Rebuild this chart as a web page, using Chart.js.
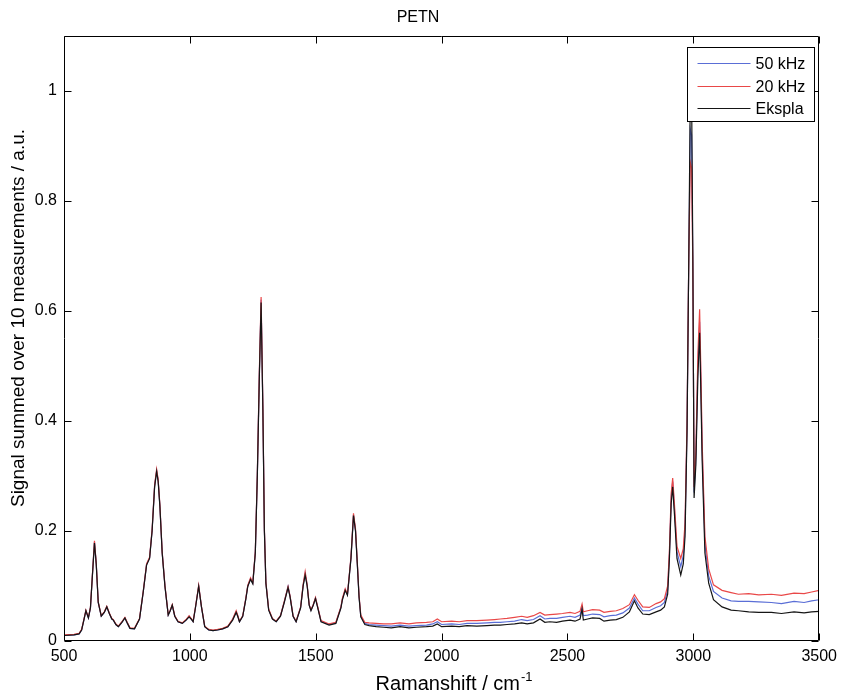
<!DOCTYPE html>
<html><head><meta charset="utf-8">
<script src="https://cdn.jsdelivr.net/npm/chart.js@4/dist/chart.umd.min.js"></script>
<style>html,body{margin:0;padding:0;background:#fff}canvas{display:block}</style>
</head><body>
<canvas id="c" width="843" height="694"></canvas>
<script>
const chartTitle = 'PETN';
const xAxisTitle = 'Ramanshift / cm';
const xAxisSup = '-1';
const yAxisTitle = 'Signal summed over 10 measurements / a.u.';
const seriesNames = ['50 kHz', '20 kHz', 'Ekspla'];
const xTicks = [500, 1000, 1500, 2000, 2500, 3000, 3500];
const yTicks = [0, 0.2, 0.4, 0.6, 0.8, 1];

const ramanShift = [
 500,540,560,570,580,587,597,605,613,621,
 628,636,648,660,670,680,690,696,706,716,
 730,742,752,762,780,800,815,828,840,850,
 860,868,874,881,890,901,914,922,930,940,
 953,970,985,997,1005,1013,1022,1035,1046,1059,
 1075,1092,1110,1130,1151,1170,1184,1190,1197,1210,
 1222,1230,1241,1250,1260,1268,1276,1283,1290,1296,
 1302,1313,1328,1343,1360,1375,1390,1398,1410,1422,
 1440,1450,1458,1466,1474,1481,1490,1499,1508,1521,
 1553,1580,1600,1606,1617,1626,1640,1650,1658,1665,
 1672,1679,1695,1712,1740,1770,1800,1835,1870,1900,
 1940,1965,1983,2000,2040,2070,2101,2140,2180,2210,
 2233,2260,2290,2318,2340,2365,2391,2410,2430,2457,
 2480,2510,2530,2550,2558,2563,2580,2600,2628,2645,
 2670,2694,2720,2746,2766,2780,2799,2825,2852,2870,
 2885,2898,2905,2912,2918,2925,2935,2950,2960,2967,
 2975,2982,2988,2993,2998,3003,3010,3018,3025,3030,
 3035,3046,3061,3080,3114,3150,3179,3220,3260,3310,
 3350,3400,3440,3470,3500
];

const signal50kHz = [
 .010,.011,.013,.020,.040,.055,.042,.060,.121,.180,
 .141,.070,.045,.052,.062,.050,.040,.038,.030,.026,
 .034,.042,.032,.023,.022,.040,.090,.139,.151,.201,
 .282,.310,.292,.245,.161,.100,.047,.055,.065,.045,
 .035,.032,.038,.045,.040,.035,.060,.100,.062,.026,
 .020,.019,.020,.022,.026,.039,.053,.046,.035,.045,
 .076,.100,.113,.105,.161,.302,.485,.620,.424,.202,
 .106,.057,.040,.035,.046,.071,.099,.081,.045,.035,
 .061,.101,.123,.101,.065,.056,.065,.078,.061,.036,
 .030,.033,.061,.076,.093,.084,.151,.229,.201,.142,
 .081,.045,.032,.030,.029,.028,.027,.029,.027,.028,
 .029,.031,.035,.030,.031,.030,.032,.032,.033,.034,
 .034,.035,.036,.039,.037,.039,.046,.040,.041,.041,
 .043,.045,.043,.047,.062,.046,.047,.049,.048,.044,
 .046,.047,.051,.060,.078,.067,.055,.055,.061,.064,
 .070,.093,.158,.260,.290,.240,.162,.135,.155,.203,
 .390,.700,.930,.920,.690,.270,.332,.500,.580,.470,
 .346,.176,.118,.090,.078,.073,.072,.072,.071,.070,
 .068,.072,.070,.073,.075
];

const signal20kHz = [
 .011,.012,.014,.021,.041,.056,.043,.061,.122,.182,
 .142,.071,.046,.053,.063,.051,.041,.039,.031,.027,
 .035,.043,.033,.024,.023,.041,.091,.140,.152,.203,
 .284,.312,.294,.247,.162,.101,.048,.056,.066,.046,
 .036,.033,.039,.046,.041,.036,.061,.101,.063,.027,
 .021,.020,.021,.023,.027,.040,.055,.047,.036,.046,
 .077,.101,.115,.106,.163,.305,.490,.625,.428,.205,
 .107,.058,.041,.036,.046,.072,.099,.082,.046,.036,
 .062,.103,.126,.102,.066,.057,.066,.079,.062,.037,
 .031,.034,.062,.078,.095,.085,.153,.232,.204,.145,
 .083,.047,.034,.033,.032,.031,.031,.033,.031,.033,
 .034,.035,.040,.035,.036,.035,.037,.037,.038,.039,
 .040,.041,.043,.045,.043,.046,.052,.047,.048,.049,
 .050,.052,.050,.054,.067,.053,.055,.057,.056,.052,
 .054,.055,.059,.066,.084,.074,.062,.061,.068,.071,
 .077,.100,.165,.268,.296,.248,.172,.150,.168,.215,
 .400,.700,.870,.860,.680,.280,.345,.520,.603,.490,
 .362,.190,.131,.102,.092,.088,.085,.086,.084,.085,
 .083,.087,.086,.089,.092
];

const signalEkspla = [
 .010,.011,.013,.020,.040,.055,.042,.060,.120,.178,
 .140,.070,.045,.052,.062,.050,.040,.038,.030,.026,
 .034,.042,.032,.023,.022,.040,.090,.138,.150,.200,
 .280,.308,.290,.244,.160,.099,.047,.055,.065,.045,
 .035,.032,.038,.044,.040,.035,.060,.099,.062,.026,
 .020,.019,.020,.022,.026,.038,.052,.045,.035,.045,
 .075,.099,.112,.104,.160,.300,.480,.615,.420,.200,
 .105,.056,.040,.035,.045,.070,.097,.080,.045,.035,
 .060,.100,.120,.100,.065,.055,.065,.077,.060,.035,
 .029,.032,.060,.075,.092,.083,.150,.228,.200,.141,
 .080,.044,.030,.028,.026,.025,.024,.026,.024,.025,
 .026,.027,.031,.026,.027,.026,.028,.027,.028,.029,
 .029,.030,.031,.033,.031,.033,.040,.034,.035,.034,
 .036,.038,.036,.040,.058,.038,.040,.042,.041,.036,
 .038,.039,.043,.053,.073,.060,.049,.048,.053,.056,
 .062,.085,.150,.250,.280,.230,.150,.120,.140,.190,
 .380,.700,1.000,1.000,.700,.260,.320,.480,.560,.450,
 .330,.160,.105,.075,.062,.056,.055,.053,.052,.052,
 .050,.053,.051,.053,.054
];

const seriesColors = ['#5a6ed6', '#e94848', '#151515'];
const FONT = "'Liberation Sans', Arial, Helvetica, sans-serif";

const seriesValues = [signal50kHz, signal20kHz, signalEkspla];
const drawOrder = [2, 1, 0];

const datasets = seriesNames.map((name, k) => ({
  label: name,
  data: ramanShift.map((x, i) => ({ x: x, y: seriesValues[k][i] })),
  borderColor: seriesColors[k],
  backgroundColor: seriesColors[k],
  borderWidth: 1.2,
  pointRadius: 0,
  tension: 0,
  fill: false,
  order: drawOrder[k]
}));

const framePlugin = {
  id: 'matlabFrame',
  afterDatasetsDraw(chart) {
    const ctx = chart.ctx, a = chart.chartArea;
    const xs = chart.scales.x, ys = chart.scales.y;
    const L = Math.round(a.left) + 0.5, R = Math.round(a.right) - 0.5;
    const T = Math.round(a.top) + 0.5, B = Math.round(a.bottom) - 0.5;
    const tl = 7;
    ctx.save();
    ctx.strokeStyle = '#000';
    ctx.lineWidth = 1;
    ctx.beginPath();
    ctx.rect(L, T, R - L, B - T);
    xTicks.forEach(v => {
      const p = Math.round(xs.getPixelForValue(v)) + 0.5;
      ctx.moveTo(p, B); ctx.lineTo(p, B - tl);
      ctx.moveTo(p, T); ctx.lineTo(p, T + tl);
    });
    yTicks.forEach(v => {
      const p = Math.round(ys.getPixelForValue(v)) + 0.5;
      ctx.moveTo(L, p); ctx.lineTo(L + tl, p);
      ctx.moveTo(R, p); ctx.lineTo(R - tl, p);
    });
    ctx.stroke();

    // legend box inside the axes (top-right)
    const bx = 687.5, by = 47.5, bw = 127, bh = 74;
    ctx.fillStyle = '#fff';
    ctx.fillRect(bx, by, bw, bh);
    ctx.strokeStyle = '#000';
    ctx.strokeRect(bx, by, bw, bh);
    ctx.font = '16px ' + FONT;
    ctx.textBaseline = 'middle';
    ctx.textAlign = 'left';
    chart.data.datasets.forEach((ds, i) => {
      const yy = Math.round(by + 15.5 + i * 22.5) + 0.5;
      ctx.strokeStyle = ds.borderColor;
      ctx.beginPath();
      ctx.moveTo(bx + 10, yy); ctx.lineTo(bx + 63, yy);
      ctx.stroke();
      ctx.fillStyle = '#000';
      ctx.fillText(ds.label, bx + 68, yy + 1);
    });
    ctx.restore();
  },
  afterDraw(chart) {
    const ctx = chart.ctx;
    ctx.save();
    ctx.fillStyle = '#000';
    ctx.textBaseline = 'alphabetic';
    // x-axis title with superscript
    ctx.font = '20px ' + FONT;
    const w1 = ctx.measureText(xAxisTitle).width;
    ctx.font = '13px ' + FONT;
    const w2 = ctx.measureText(xAxisSup).width;
    const cx = 454;
    const x0 = cx - (w1 + w2 + 1) / 2;
    const base = 690;
    ctx.font = '20px ' + FONT;
    ctx.textAlign = 'left';
    ctx.fillText(xAxisTitle, x0, base);
    ctx.font = '13px ' + FONT;
    ctx.fillText(xAxisSup, x0 + w1 + 1, base - 9);
    // y-axis title (rotated)
    ctx.translate(19, 318);
    ctx.rotate(-Math.PI / 2);
    ctx.font = '19px ' + FONT;
    ctx.textAlign = 'center';
    ctx.textBaseline = 'middle';
    ctx.fillText(yAxisTitle, 0, 0);
    ctx.restore();
  }
};

Chart.defaults.color = '#000';
Chart.defaults.font.family = FONT;

new Chart(document.getElementById('c'), {
  type: 'line',
  data: { datasets: datasets },
  options: {
    responsive: false,
    animation: false,
    devicePixelRatio: 1,
    events: [],
    layout: { padding: { left: 14, right: 21, top: 0, bottom: 0 } },
    plugins: {
      legend: { display: false },
      tooltip: { enabled: false },
      title: {
        display: true, text: chartTitle, color: '#000',
        font: { size: 16, weight: 'normal', family: FONT },
        padding: { top: 8, bottom: 8.5 }
      }
    },
    scales: {
      x: {
        type: 'linear', min: 500, max: 3500,
        afterBuildTicks: s => { s.ticks = xTicks.map(v => ({ value: v })); },
        afterFit: s => { s.height = 53; },
        grid: { display: false, drawTicks: false },
        border: { display: false },
        ticks: { padding: 6, maxRotation: 0, autoSkip: false, color: '#000',
                 font: { size: 16, family: FONT }, callback: v => String(v) },
        title: { display: false }
      },
      y: {
        type: 'linear', min: 0, max: 1.1,
        afterBuildTicks: s => { s.ticks = yTicks.map(v => ({ value: v })); },
        afterFit: s => { s.width = 50; },
        grid: { display: false, drawTicks: false },
        border: { display: false },
        ticks: { padding: 7, color: '#000', font: { size: 16, family: FONT },
                 callback: v => String(v) },
        title: { display: false }
      }
    }
  },
  plugins: [framePlugin]
});
</script>
</body></html>
